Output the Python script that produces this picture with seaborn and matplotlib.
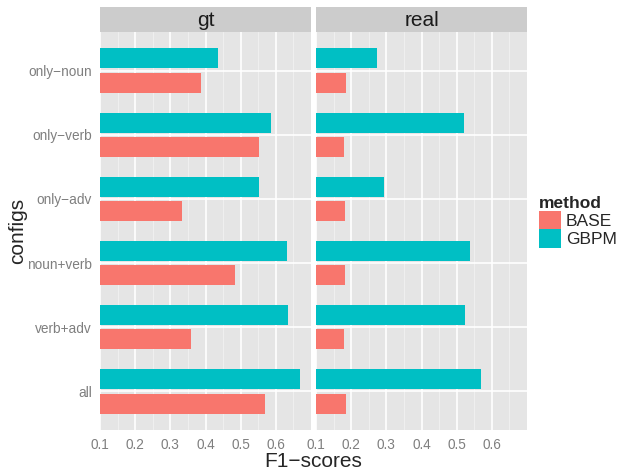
import pandas as pd
import seaborn as sns
import matplotlib.pyplot as plt
from matplotlib.patches import Patch

# values
configs = ['only\u2212noun', 'only\u2212verb', 'only\u2212adv', 'noun+verb', 'verb+adv', 'all']
gt_base = [0.387, 0.552, 0.333, 0.484, 0.360, 0.569]
gt_gbpm = [0.435, 0.586, 0.552, 0.631, 0.634, 0.668]
real_base = [0.185, 0.180, 0.182, 0.182, 0.180, 0.185]
real_gbpm = [0.273, 0.520, 0.293, 0.537, 0.523, 0.569]
panels = ['gt', 'real']
methods = ['BASE', 'GBPM']
colors = {'BASE': '#F8766D', 'GBPM': '#00BFC4'}
xticks = [0.1, 0.2, 0.3, 0.4, 0.5, 0.6]
xminor = [0.15, 0.25, 0.35, 0.45, 0.55, 0.65]

rows = []
for panel, base, gbpm in [('gt', gt_base, gt_gbpm), ('real', real_base, real_gbpm)]:
    for c, b, g in zip(configs, base, gbpm):
        rows.append({'panel': panel, 'config': c, 'method': 'BASE', 'f1': b})
        rows.append({'panel': panel, 'config': c, 'method': 'GBPM', 'f1': g})
df = pd.DataFrame(rows)

sns.set_style('white')
plt.rcParams['font.family'] = ['Liberation Sans', 'DejaVu Sans']

W, H = 618, 469
fig = plt.figure(figsize=(W / 100, H / 100), dpi=100)

panel_left = [100, 316]
panel_w = 211
top, bottom = 32, 430

for i, panel in enumerate(panels):
    x0 = panel_left[i]
    ax = fig.add_axes([x0 / W, 1 - bottom / H, panel_w / W, (bottom - top) / H])
    sub = df[df['panel'] == panel]
    sns.barplot(data=sub, x='f1', y='config', hue='method', order=configs,
                hue_order=['GBPM', 'BASE'], palette=colors, orient='h',
                width=0.75, gap=0.17, saturation=1, errorbar=None,
                linewidth=0, legend=False, ax=ax)
    ax.set_facecolor('#E5E5E5')
    ax.set_xlim(0.1, 0.7)
    ax.set_ylim(5.6, -0.6)
    ax.set_xticks(xticks)
    ax.set_xticklabels([f'{t:.1f}' for t in xticks])
    ax.set_xticks(xminor, minor=True)
    ax.set_axisbelow(True)
    ax.grid(which='minor', axis='x', color='#F2F2F2', lw=0.6)
    ax.grid(which='major', color='white', lw=1.2)
    for s in ax.spines.values():
        s.set_visible(False)
    ax.tick_params(which='minor', length=0)
    ax.tick_params(which='major', length=4, width=0.8, color='#7F7F7F',
                   labelcolor='#7F7F7F', labelsize=9.8, pad=2)
    if i > 0:
        ax.tick_params(axis='y', left=False, labelleft=False)
    ax.set_xlabel('')
    ax.set_ylabel('')

    # facet strip
    sax = fig.add_axes([x0 / W, 1 - top / H, panel_w / W, 25 / H])
    sax.set_facecolor('#CCCCCC')
    sax.set_xticks([])
    sax.set_yticks([])
    for s in sax.spines.values():
        s.set_visible(False)
    sax.text(0.5, 0.45, panel, ha='center', va='center', fontsize=15,
             color='#1A1A1A', transform=sax.transAxes)

fig.text(313 / W, 1 - 461 / H, 'F1\u2212scores', ha='center', va='center', fontsize=15)
fig.text(18 / W, 1 - 231 / H, 'configs', ha='center', va='center', fontsize=15,
         rotation=90)

handles = [Patch(facecolor=colors[m], edgecolor='none', label=m) for m in methods]
fig.legend(handles=handles, title='method', loc='upper left',
           bbox_to_anchor=(539 / W, 1 - 196 / H), frameon=False, fontsize=12.5,
           title_fontproperties={'weight': 'bold', 'size': 12.5},
           handlelength=1.25, handleheight=1.25, labelspacing=0.0,
           handletextpad=0.3, borderpad=0, borderaxespad=0, alignment='left')

fig.savefig('out.png', dpi=100)
